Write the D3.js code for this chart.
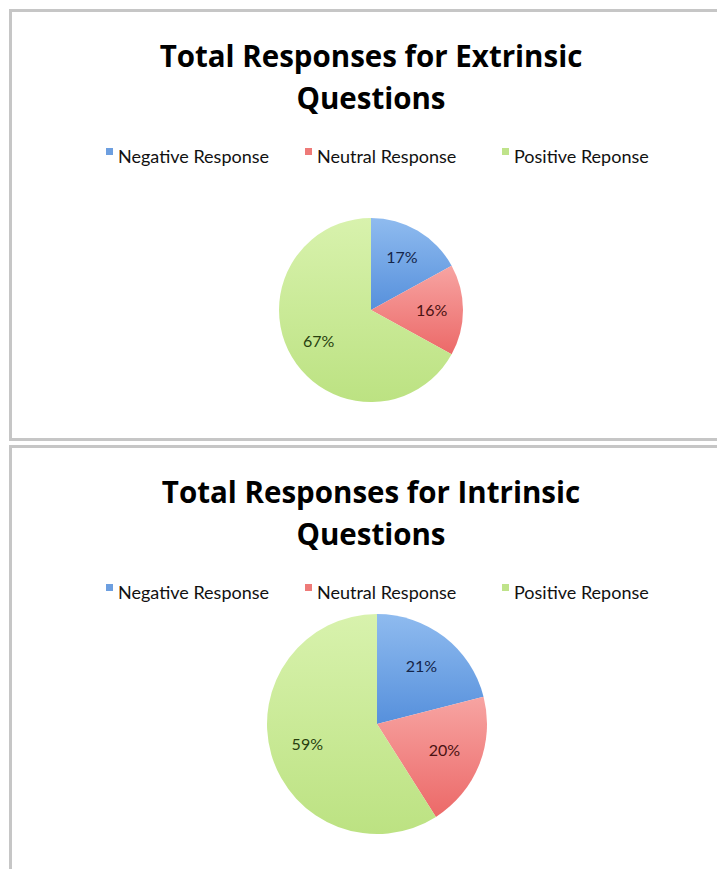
<!DOCTYPE html>
<html>
<head>
<meta charset="utf-8">
<title>Total Responses</title>
<script src="https://cdn.jsdelivr.net/npm/d3@7"></script>
<style>
body {
  margin: 0;
  background: #fff;
}
svg {
  display: block;
}
</style>
</head>
<body>
<div id="chart"></div>
<script>
// data
var categories = ["Negative Response", "Neutral Response", "Positive Reponse"];
var extrinsic = [17, 16, 67];
var intrinsic = [21, 20, 59];
var titles = [
  ["Total Responses for Extrinsic", "Questions"],
  ["Total Responses for Intrinsic", "Questions"]
];

var W = 717, H = 869;
var titleFont = "'Open Sans', Lato, sans-serif";
var font = "Lato, 'Open Sans', sans-serif";

// slice fill: top, bottom of the gradient, and label ink
var fills = [
  {top: "#8fbbef", bottom: "#5690dc", ink: "#14254a"},
  {top: "#f7a4a2", bottom: "#ec6968", ink: "#4a1212"},
  {top: "#d8f2ad", bottom: "#bce282", ink: "#283f0f"}
];
var legendSwatch = ["#6d9fe0", "#ee7a78", "#bfe38a"];

var svg = d3.select("#chart").append("svg")
  .attr("width", W)
  .attr("height", H);

var defs = svg.append("defs");
fills.forEach(function(f, i) {
  var g = defs.append("linearGradient")
    .attr("id", "grad" + i)
    .attr("x1", 0).attr("y1", 0).attr("x2", 0).attr("y2", 1);
  g.append("stop").attr("offset", "0%").attr("stop-color", f.top);
  g.append("stop").attr("offset", "100%").attr("stop-color", f.bottom);
});

var panels = [
  {values: extrinsic, title: titles[0], top: 9, bottom: 441,
   titleY: 67, legendY: 163, cx: 371, cy: 310, r: 92},
  {values: intrinsic, title: titles[1], top: 445, bottom: 880,
   titleY: 503, legendY: 599, cx: 377, cy: 724, r: 110}
];

var pie = d3.pie().sort(null).value(function(d) { return d; });
var legendX = d3.scaleOrdinal().domain(categories).range([106, 305, 502]);

panels.forEach(function(p) {
  var g = svg.append("g");

  // panel frame
  g.append("rect")
    .attr("x", 10.5)
    .attr("y", p.top + 1.5)
    .attr("width", W)
    .attr("height", p.bottom - p.top - 3)
    .attr("fill", "#fff")
    .attr("stroke", "#c6c6c6")
    .attr("stroke-width", 3);

  // title
  g.selectAll(".title")
    .data(p.title)
    .enter().append("text")
    .attr("x", 371)
    .attr("y", function(d, i) { return p.titleY + i * 42; })
    .attr("text-anchor", "middle")
    .style("font-family", titleFont)
    .style("font-weight", "bold")
    .style("font-size", "29.5px")
    .style("fill", "#000")
    .text(function(d) { return d; });

  // legend
  var items = g.selectAll(".legend")
    .data(categories)
    .enter().append("g")
    .attr("transform", function(d) { return "translate(" + legendX(d) + "," + p.legendY + ")"; });
  items.append("rect")
    .attr("x", 0).attr("y", -15)
    .attr("width", 7).attr("height", 7)
    .attr("fill", function(d, i) { return legendSwatch[i]; });
  items.append("text")
    .attr("x", 12)
    .attr("y", 0)
    .style("font-family", font)
    .style("font-size", "18px")
    .style("fill", "#111")
    .text(function(d) { return d; });

  // pie
  var arc = d3.arc().innerRadius(0).outerRadius(p.r);
  var labelArc = d3.arc().innerRadius(p.r * 0.66).outerRadius(p.r * 0.66);
  var slices = g.append("g")
    .attr("transform", "translate(" + p.cx + "," + p.cy + ")")
    .selectAll("g")
    .data(pie(p.values))
    .enter().append("g");
  slices.append("path")
    .attr("d", arc)
    .attr("fill", function(d, i) { return "url(#grad" + i + ")"; });
  slices.append("text")
    .attr("transform", function(d) { return "translate(" + labelArc.centroid(d) + ")"; })
    .attr("dy", "0.35em")
    .attr("text-anchor", "middle")
    .style("font-family", font)
    .style("font-size", "16px")
    .style("fill", function(d, i) { return fills[i].ink; })
    .text(function(d) { return d.data + "%"; });
});
</script>
</body>
</html>
